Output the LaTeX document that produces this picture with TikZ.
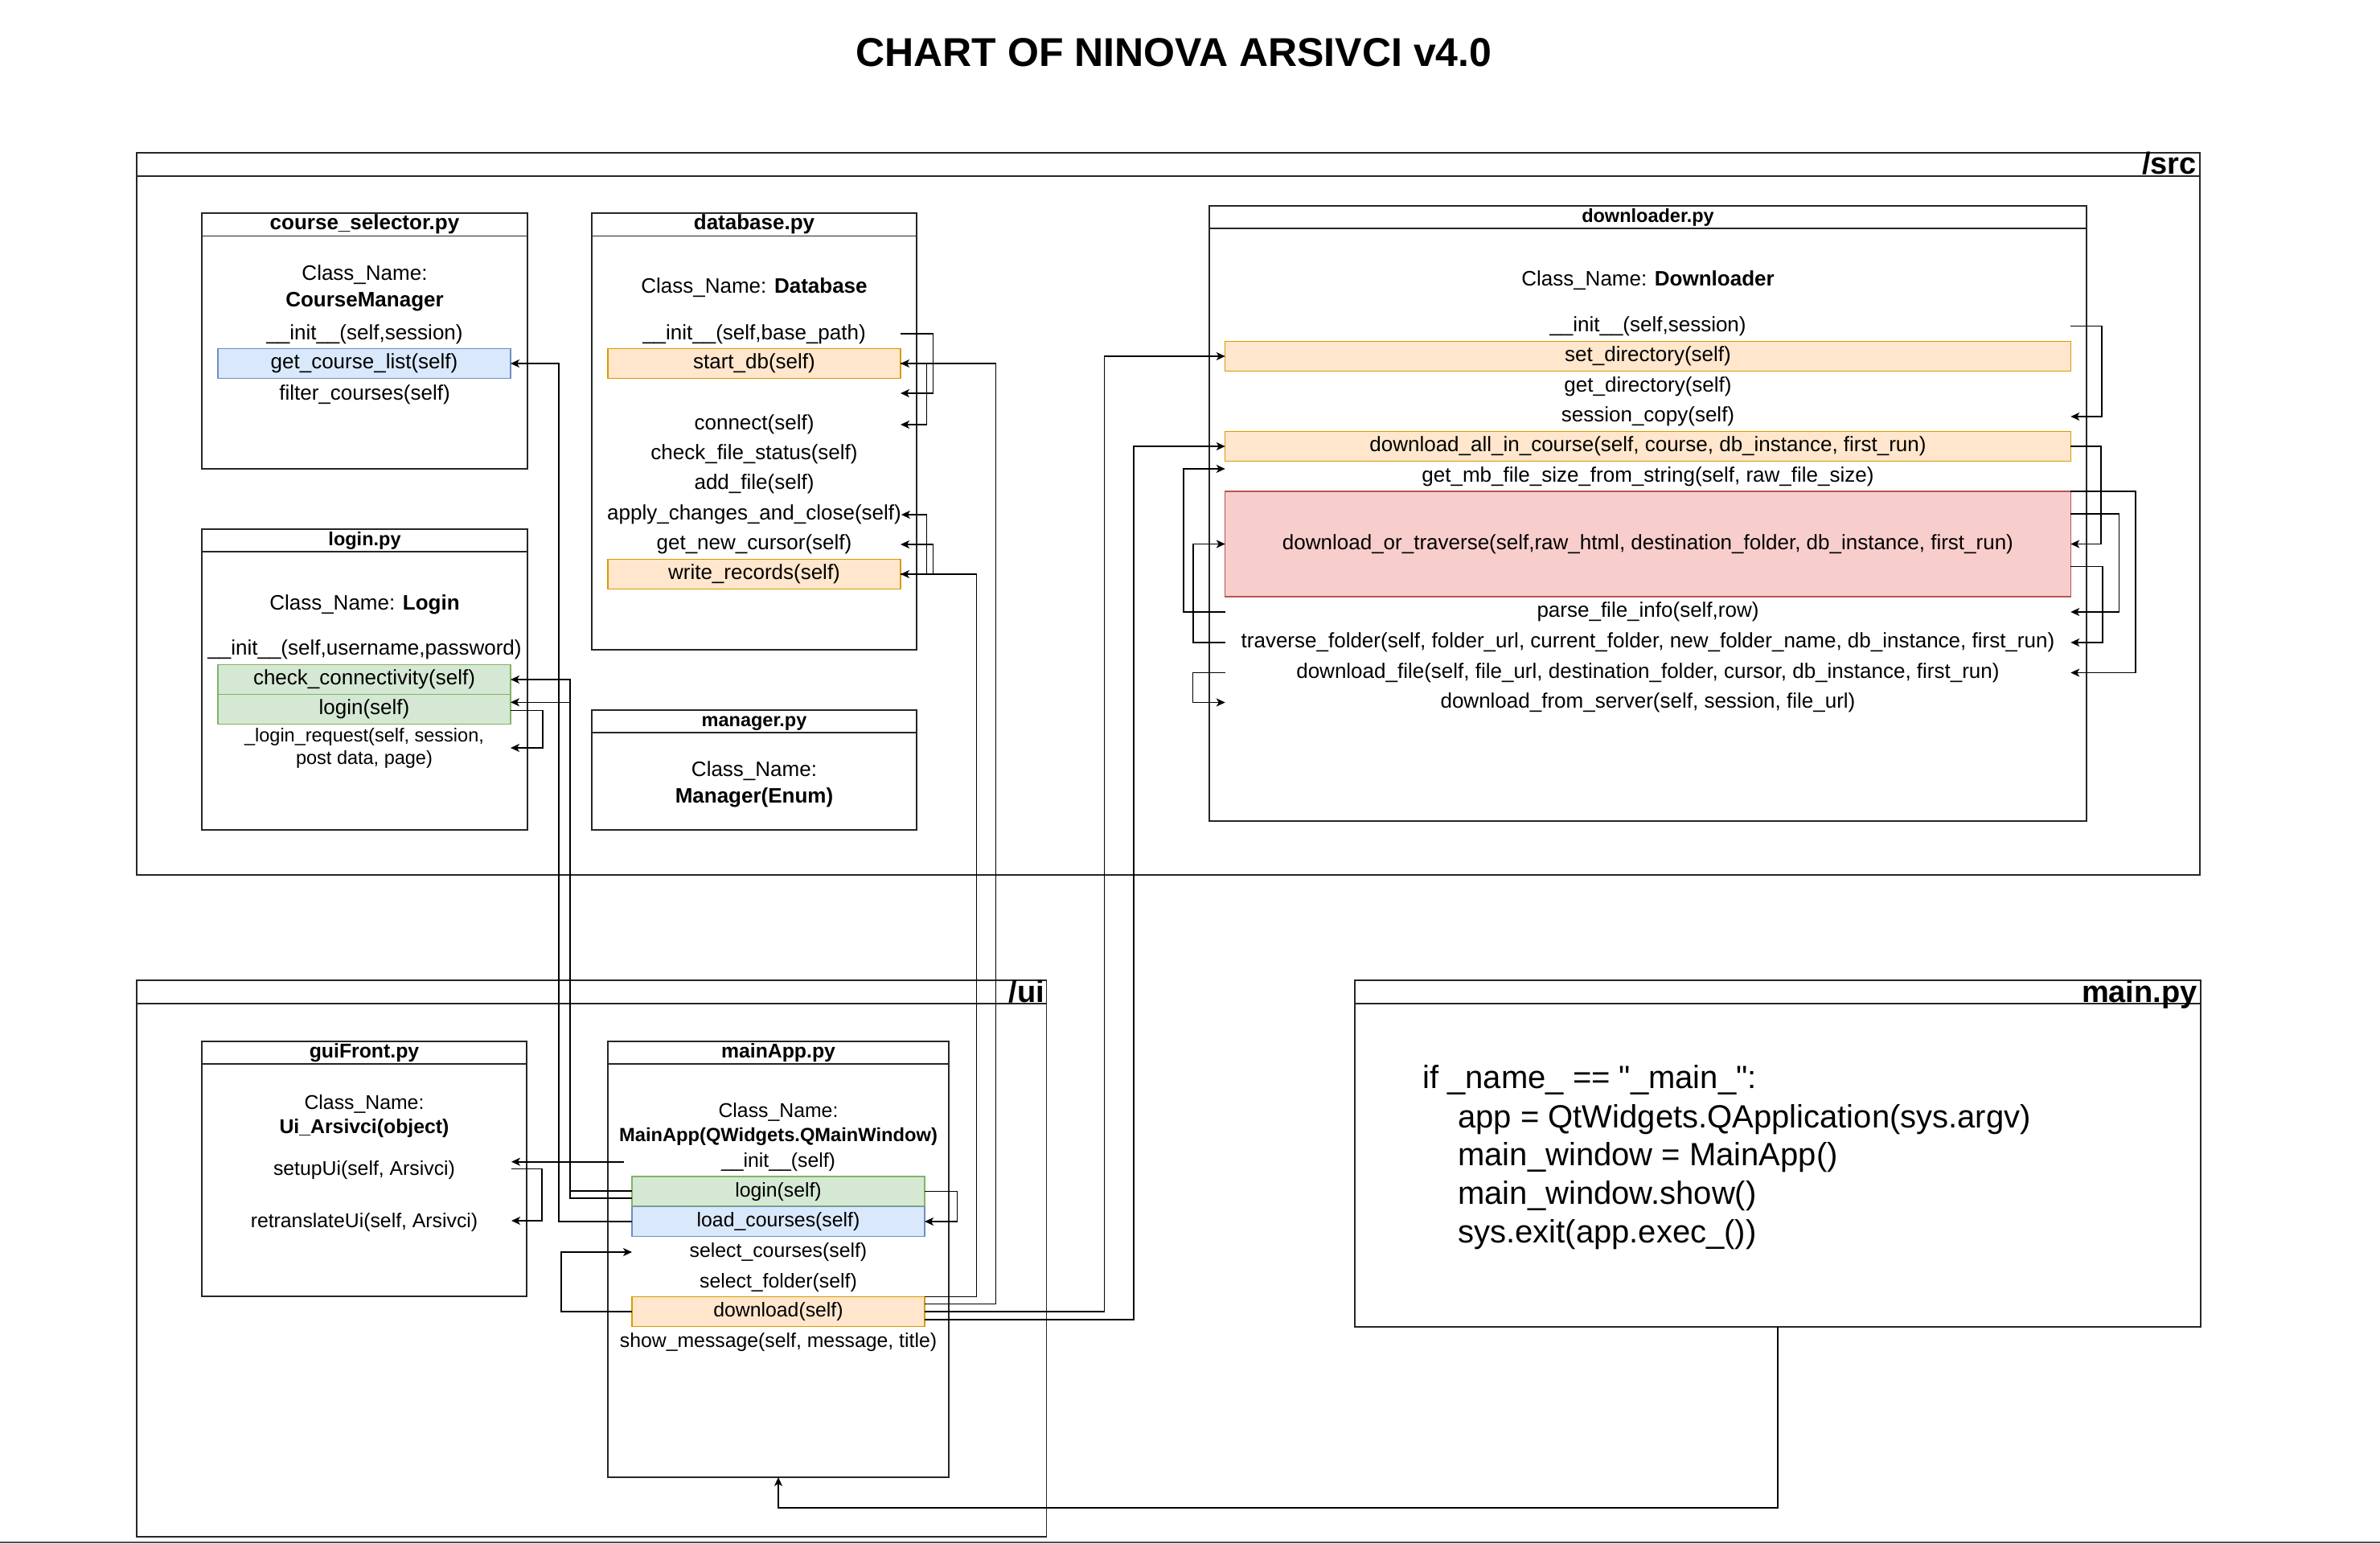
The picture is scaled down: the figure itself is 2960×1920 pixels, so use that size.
\documentclass[tikz,border=0pt]{standalone}
\usepackage{fontspec}
\setmainfont{Liberation Sans}
\newfontfamily\codefont{Liberation Sans}[Ligatures=TeXOff]
\usetikzlibrary{arrows.meta,calc}

\definecolor{orangeFill}{HTML}{FFE6CC}
\definecolor{orangeLine}{HTML}{D79B00}
\definecolor{greenFill}{HTML}{D5E8D4}
\definecolor{greenLine}{HTML}{82B366}
\definecolor{blueFill}{HTML}{DAE8FC}
\definecolor{blueLine}{HTML}{6C8EBF}
\definecolor{redFill}{HTML}{F8CECC}
\definecolor{redLine}{HTML}{B85450}

\tikzset{
  filebox/.style={draw=black!85, line width=0.95pt, inner sep=0pt, outer sep=0pt},
  txt/.style={inner sep=0pt, outer sep=0pt, text height=9.4pt, text depth=2.7pt, font=\fontsize{13}{15.6}\selectfont},
  clsname/.style={txt, font=\bfseries\fontsize{13}{15.6}\selectfont},
  headtxt/.style={txt, font=\bfseries\fontsize{13}{15.6}\selectfont},
  smallhead/.style={font=\bfseries\fontsize{11.75}{14}\selectfont},
  uihead/.style={font=\bfseries\fontsize{12.4}{15}\selectfont},
  uitxt/.style={txt, font=\fontsize{12.4}{15}\selectfont},
  meth/.style={txt, minimum width=182pt, minimum height=18.5pt},
  uimeth/.style={meth, font=\fontsize{12.4}{15}\selectfont},
  dlmeth/.style={meth, minimum width=525.75pt, minimum height=18.75pt},
  orangerow/.style={draw=orangeLine, fill=orangeFill, line width=0.7pt},
  greenrow/.style={draw=greenLine, fill=greenFill, line width=0.7pt},
  bluerow/.style={draw=blueLine, fill=blueFill, line width=0.7pt},
  redrow/.style={draw=redLine, fill=redFill, line width=0.7pt},
  dirhead/.style={anchor=base east, inner sep=0pt, font=\bfseries\fontsize{19}{22}\selectfont},
  codeline/.style={anchor=base west, inner sep=0pt, font=\codefont\fontsize{20}{24}\selectfont},
  conn/.style={-{Stealth[length=5.5pt,width=5pt,inset=1.5pt]}, line width=0.8pt, black},
}

\begin{document}
\begin{tikzpicture}[x=0.5pt,y=-0.5pt]
        \useasboundingbox (0,0) rectangle (2960,1920);

        % Title
        \node[anchor=base, inner sep=0pt, font=\bfseries\fontsize{25}{30}\selectfont] (title) at (1460,82.7) {CHART OF NINOVA ARSIVCI v4.0};

        % Draw the /src folder
        \node[filebox, minimum width=1283pt, minimum height=449pt] (src) at (1453,639) {};
        \draw[filebox] ($(src.north west)+(0,29)$) -- ($(src.north east)+(0,29)$);
        \node[dirhead] (src-head) at ($(src.north east)+(-4,27)$) {/src};

        % course_selector.py
        \node[filebox, minimum width=202.5pt, minimum height=159pt] (cs) at (453.5,424) {};
        \draw[filebox] ($(cs.north west)+(0,28.5)$) -- ($(cs.north east)+(0,28.5)$);
        \node[headtxt] (cs-head) at (453.5,279) {course\_selector.py};
        \node[txt] (cs-cls1) at (453.5,342) {Class\_Name:};
        \node[clsname] (cs-cls2) at (453.5,375) {CourseManager};
        \node[meth] (cs-init) at (453.5,416) {\_\_init\_\_(self,session)};
        \node[meth, bluerow] (cs-getlist) at (453,452) {get\_course\_list(self)};
        \node[meth] (cs-filter) at (453.5,491) {filter\_courses(self)};

        % database.py
        \node[filebox, minimum width=202pt, minimum height=271.5pt] (db) at (938,536.5) {};
        \draw[filebox] ($(db.north west)+(0,28.5)$) -- ($(db.north east)+(0,28.5)$);
        \node[headtxt] (db-head) at (938,279) {database.py};
        \node[txt] (db-cls) at (938,358) {Class\_Name: \textbf{Database}};
        \node[meth] (db-init) at (938,416) {\_\_init\_\_(self,base\_path)};
        \node[meth, orangerow] (db-start) at (938,452) {start\_db(self)};
        \coordinate (db-blank) at (1120,489);
        \node[meth] (db-connect) at (938,528) {connect(self)};
        \node[meth] (db-check) at (938,565) {check\_file\_status(self)};
        \node[meth] (db-add) at (938,602) {add\_file(self)};
        \node[meth] (db-apply) at (938,640) {apply\_changes\_and\_close(self)};
        \node[meth] (db-cursor) at (938,677) {get\_new\_cursor(self)};
        \node[meth, orangerow] (db-write) at (938,714) {write\_records(self)};

        % login.py
        \node[filebox, minimum width=202.5pt, minimum height=187pt] (lg) at (453.5,845) {};
        \draw[filebox] ($(lg.north west)+(0,28)$) -- ($(lg.north east)+(0,28)$);
        \node[headtxt, smallhead] (lg-head) at (453.5,672) {login.py};
        \node[txt] (lg-cls) at (453.5,752) {Class\_Name: \textbf{Login}};
        \node[meth] (lg-init) at (453.5,808) {\_\_init\_\_(self,username,password)};
        \node[meth, greenrow] (lg-check) at (453,845) {check\_connectivity(self)};
        \node[meth, greenrow] (lg-login) at (453,882) {login(self)};
        \node[inner sep=0pt, outer sep=0pt, minimum width=182pt, align=center, font=\fontsize{11.75}{14}\selectfont] (lg-req) at (453,930) {\_login\_request(self, session,\\post data, page)};

        % manager.py
        \node[filebox, minimum width=202pt, minimum height=74.5pt] (mg) at (938,957.5) {};
        \draw[filebox] ($(mg.north west)+(0,28)$) -- ($(mg.north east)+(0,28)$);
        \node[headtxt, smallhead] (mg-head) at (938,897) {manager.py};
        \node[txt] (mg-cls1) at (938,959) {Class\_Name:};
        \node[clsname] (mg-cls2) at (938,992) {Manager(Enum)};

        % downloader.py
        \node[filebox, minimum width=545.5pt, minimum height=382.5pt] (dl) at (2049.5,638.5) {};
        \draw[filebox] ($(dl.north west)+(0,28)$) -- ($(dl.north east)+(0,28)$);
        \node[headtxt, smallhead] (dl-head) at (2049.5,270) {downloader.py};
        \node[txt] (dl-cls) at (2049.5,348.6) {Class\_Name: \textbf{Downloader}};
        \node[dlmeth] (dl-init) at (2049.5,405.4) {\_\_init\_\_(self,session)};
        \node[dlmeth, orangerow] (dl-setdir) at (2049.5,443) {set\_directory(self)};
        \node[dlmeth] (dl-getdir) at (2049.5,481) {get\_directory(self)};
        \node[dlmeth] (dl-session) at (2049.5,518) {session\_copy(self)};
        \node[dlmeth, orangerow] (dl-dlall) at (2049.5,555) {download\_all\_in\_course(self, course, db\_instance, first\_run)};
        \node[dlmeth] (dl-getmb) at (2049.5,592.7) {get\_mb\_file\_size\_from\_string(self, raw\_file\_size)};
        \node[dlmeth, redrow, minimum height=65.5pt] (dl-dot) at (2049.5,676.5) {download\_or\_traverse(self,raw\_html, destination\_folder, db\_instance, first\_run)};
        \node[dlmeth] (dl-parse) at (2049.5,761) {parse\_file\_info(self,row)};
        \node[dlmeth] (dl-traverse) at (2049.5,799) {traverse\_folder(self, folder\_url, current\_folder, new\_folder\_name, db\_instance, first\_run)};
        \node[dlmeth] (dl-dlfile) at (2049.5,836.5) {download\_file(self, file\_url, destination\_folder, cursor, db\_instance, first\_run)};
        \node[dlmeth] (dl-server) at (2049.5,873.5) {download\_from\_server(self, session, file\_url)};

        % Draw the /ui folder
        \node[filebox, minimum width=565.75pt, minimum height=346pt] (ui) at (735.75,1565) {};
        \draw[filebox] ($(ui.north west)+(0,29)$) -- ($(ui.north east)+(0,29)$);
        \node[dirhead] (ui-head) at ($(ui.north east)+(-2,27)$) {/ui};

        % guiFront.py
        \node[filebox, minimum width=202pt, minimum height=158.5pt] (gf) at (453,1453.5) {};
        \draw[filebox] ($(gf.north west)+(0,28)$) -- ($(gf.north east)+(0,28)$);
        \node[headtxt, uihead] (gf-head) at (453,1309) {guiFront.py};
        \node[uitxt] (gf-cls1) at (453,1373) {Class\_Name:};
        \node[uitxt, font=\bfseries\fontsize{12.4}{15}\selectfont] (gf-cls2) at (453,1403) {Ui\_Arsivci(object)};
        \node[uimeth, minimum width=183pt] (gf-setup) at (453,1455) {setupUi(self, Arsivci)};
        \node[uimeth, minimum width=183pt] (gf-retrans) at (453,1520) {retranslateUi(self, Arsivci)};

        % mainApp.py
        \node[filebox, minimum width=212pt, minimum height=271pt] (ma) at (968,1566) {};
        \draw[filebox] ($(ma.north west)+(0,28)$) -- ($(ma.north east)+(0,28)$);
        \node[headtxt, uihead] (ma-head) at (968,1309) {mainApp.py};
        \node[uitxt] (ma-cls1) at (968,1383) {Class\_Name:};
        \node[uitxt, font=\bfseries\fontsize{11.85}{14}\selectfont] (ma-cls2) at (968,1412.6) {MainApp(QWidgets.QMainWindow)};
        \node[uimeth, minimum width=192pt] (ma-init) at (968,1444.7) {\_\_init\_\_(self)};
        \node[uimeth, greenrow] (ma-login) at (968,1481.5) {login(self)};
        \node[uimeth, bluerow] (ma-load) at (968,1519) {load\_courses(self)};
        \node[uimeth] (ma-selcourses) at (968,1557) {select\_courses(self)};
        \node[uimeth] (ma-selfolder) at (968,1595) {select\_folder(self)};
        \node[uimeth, orangerow] (ma-download) at (968,1631) {download(self)};
        \node[uimeth] (ma-show) at (968,1669) {show\_message(self, message, title)};

        % main.py
        \node[filebox, minimum width=526pt, minimum height=215.5pt] (mainpy) at (2211,1434.5) {};
        \draw[filebox] ($(mainpy.north west)+(0,29)$) -- ($(mainpy.north east)+(0,29)$);
        \node[dirhead] (mainpy-head) at ($(mainpy.north east)+(-4,27)$) {main.py};
        \node[codeline] (code1) at (1769,1353.8) {if \_name\_ == "\_main\_":};
        \node[codeline] (code2) at (1813,1402) {app = QtWidgets.QApplication(sys.argv)};
        \node[codeline] (code3) at (1813,1449.5) {main\_window = MainApp()};
        \node[codeline] (code4) at (1813,1497.5) {main\_window.show()};
        \node[codeline] (code5) at (1813,1545) {sys.exit(app.exec\_())};

        % Calls inside database.py
        \draw[conn] ($(db-init.east)+(0,-1)$) -- ++(40.3,0) |- (db-blank);
        \draw[conn] (db-start.east) -- ++(32.3,0) |- (db-connect.east);
        \draw[conn] (db-write.east) -- ++(32.3,0) |- (db-apply.east);
        \draw[conn] (db-write.east) -- ++(40.3,0) |- (db-cursor.east);

        % Calls inside login.py
        \draw[conn] ($(lg-login.east)+(0,1.3)$) -- ++(40,0) |- (lg-req.east);

        % Calls inside downloader.py
        \draw[conn] (dl-init.east) -- ++(38.5,0) |- (dl-session.east);
        \draw[conn] (dl-dlall.east) -- ++(38,0) |- (dl-dot.east);
        \draw[conn] (dl-dot.north east) -- ++(81,0) |- (dl-dlfile.east);
        \draw[conn] ($(dl-dot.north east)+(0,28)$) -- ++(60.4,0) |- (dl-parse.east);
        \draw[conn] ($(dl-dot.east)+(0,28)$) -- ++(39.8,0) |- (dl-traverse.east);
        \draw[conn] (dl-traverse.west) -- ++(-39.5,0) |- (dl-dot.west);
        \draw[conn] (dl-parse.west) -- ++(-51.8,0) |- ($(dl-getmb.west)+(0,-9.7)$);
        \draw[conn] (dl-dlfile.west) -- ++(-40.2,0) |- (dl-server.west);

        % Calls inside guiFront.py and mainApp.py
        \draw[conn] (ma-init.west) -- (ma-init.west -| gf-setup.east);
        \draw[conn] ($(gf-setup.east)+(0,-1.6)$) -- ++(38,0) |- ($(gf-retrans.east)+(0,-2)$);
        \draw[conn] (ma-login.east) -- ++(40.6,0) |- (ma-load.east);
        \draw[conn] (ma-download.west) -- ++(-88,0) |- (ma-selcourses.west);

        % Calls from mainApp.py into /src
        \draw[conn] (ma-load.west) -- ++(-91,0) |- (cs-getlist.east);
        \draw[conn] ($(ma-login.west)+(0,-0.5)$) -- ++(-77,0) |- (lg-check.east);
        \draw[conn] ($(ma-login.west)+(0,8.5)$) -- ++(-77,0) |- ($(lg-login.east)+(0,-8.7)$);
        \draw[conn] (ma-download.north east) -- ++(64.3,0) |- (db-write.east);
        \draw[conn] ($(ma-download.east)+(0,-9.7)$) -- ++(88.3,0) |- (db-start.east);
        \draw[conn] (ma-download.east) -- ++(223.3,0) |- (dl-setdir.west);
        \draw[conn] ($(ma-download.east)+(0,10)$) -- ++(260,0) |- (dl-dlall.west);

        % main.py starts mainApp.py
        \draw[conn] (mainpy.south) -- ++(0,225) -| (ma.south);

        % Bottom edge
        \draw[line width=1.2pt, black!70] (0,1918) -- (2960,1918);
    \end{tikzpicture}
\end{document}
